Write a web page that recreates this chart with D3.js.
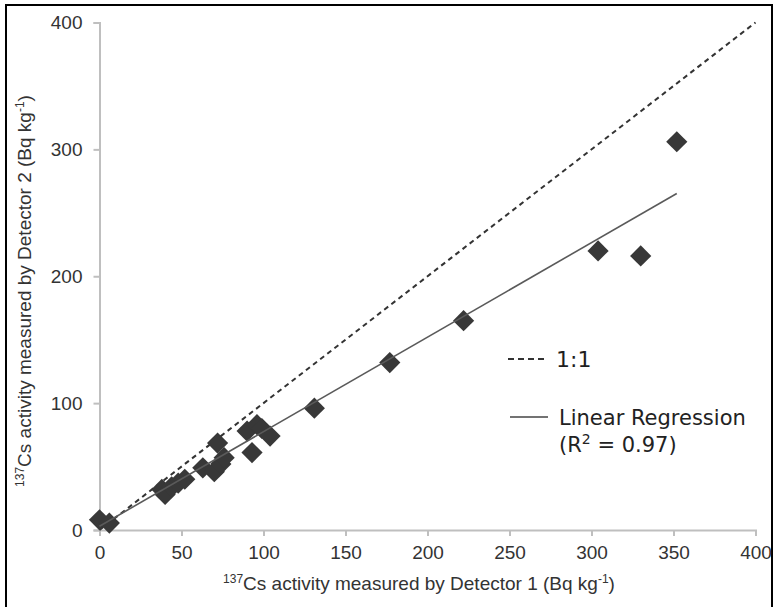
<!DOCTYPE html>
<html>
<head>
<meta charset="utf-8">
<script src="https://cdn.jsdelivr.net/npm/d3@7"></script>
<style>
  html, body { margin: 0; padding: 0; background: #fff; }
  svg { display: block; }
</style>
</head>
<body>
<svg id="chart" width="776" height="607"></svg>
<script>
// ---- data ----
const detector1 = [0, 6, 38, 40, 44, 48, 52, 63, 70, 74, 76, 72, 90, 96, 99, 104, 93, 131, 177, 222, 304, 330, 352];
const detector2 = [8, 5.5, 32, 28, 34, 37, 40, 49, 46, 52, 57, 68.5, 78, 83, 80, 74, 61, 96, 132, 165, 220, 216, 306];
const xTicks = [0, 50, 100, 150, 200, 250, 300, 350, 400];
const yTicks = [0, 100, 200, 300, 400];
const regSlope = 0.745;
const regIntercept = 3;
const regRange = [0, 352];
const oneToOne = [0, 400];
const legendLabels = ["1:1", "Linear Regression", "(R", "2", " = 0.97)"];

const svg = d3.select("#chart");

// border
svg.append("rect")
  .attr("x", 6).attr("y", 5).attr("width", 766).attr("height", 603)
  .attr("fill", "none").attr("stroke", "#000").attr("stroke-width", 2);

const x = d3.scaleLinear().domain([0, 400]).range([99.5, 755.5]);
const y = d3.scaleLinear().domain([0, 400]).range([530, 22.5]);

const axisColor = "#bfbfbf";
const tickFont = "'Liberation Sans', Arial, sans-serif";

// x axis
const gx = svg.append("g").attr("transform", `translate(0,${y(0)})`)
  .call(d3.axisBottom(x).tickValues(xTicks).tickSize(6).tickPadding(10).tickSizeOuter(6));
// y axis
const gy = svg.append("g").attr("transform", `translate(${x(0)},0)`)
  .call(d3.axisLeft(y).tickValues(yTicks).tickSize(6).tickPadding(11).tickSizeOuter(6));

[gx, gy].forEach(g => {
  g.select(".domain").attr("stroke", axisColor).attr("stroke-width", 2);
  g.selectAll(".tick line").attr("stroke", axisColor).attr("stroke-width", 2);
  g.selectAll(".tick text").attr("fill", "#333")
    .style("font-family", tickFont).style("font-size", "19px");
});

// 1:1 line
svg.append("line")
  .attr("x1", x(oneToOne[0])).attr("y1", y(oneToOne[0]))
  .attr("x2", x(oneToOne[1])).attr("y2", y(oneToOne[1]))
  .attr("stroke", "#333").attr("stroke-width", 2).attr("stroke-dasharray", "5,4");

// points
const pts = detector1.map((d, i) => [d, detector2[i]]);
const sym = d3.symbol().type(d3.symbolSquare).size(225);
svg.append("g").selectAll("path").data(pts).join("path")
  .attr("d", sym)
  .attr("transform", d => `translate(${x(d[0])},${y(d[1])}) rotate(45)`)
  .attr("fill", "#383838");

// regression line
svg.append("line")
  .attr("x1", x(regRange[0])).attr("y1", y(regIntercept + regSlope * regRange[0]))
  .attr("x2", x(regRange[1])).attr("y2", y(regIntercept + regSlope * regRange[1]))
  .attr("stroke", "#5a5a5a").attr("stroke-width", 1.6);

// legend
const legFont = "'DejaVu Sans', Verdana, sans-serif";
const leg = svg.append("g");
leg.append("line").attr("x1", 508).attr("x2", 548).attr("y1", 359).attr("y2", 359)
  .attr("stroke", "#333").attr("stroke-width", 2).attr("stroke-dasharray", "6,4");
leg.append("text").attr("x", 556).attr("y", 367).text(legendLabels[0])
  .attr("fill", "#1e1e1e").style("font-family", legFont).style("font-size", "22px");
leg.append("line").attr("x1", 510).attr("x2", 548).attr("y1", 417).attr("y2", 417)
  .attr("stroke", "#444").attr("stroke-width", 1.6);
leg.append("text").attr("x", 559).attr("y", 425).text(legendLabels[1])
  .attr("fill", "#222").style("font-family", legFont).style("font-size", "21px");
const r2 = leg.append("text").attr("x", 559).attr("y", 452)
  .attr("fill", "#222").style("font-family", legFont).style("font-size", "21px");
r2.append("tspan").text(legendLabels[2]);
r2.append("tspan").text(legendLabels[3]).attr("dy", -8).style("font-size", "14px");
r2.append("tspan").text(legendLabels[4]).attr("dy", 8);

// axis titles
function title(sel, num) {
  sel.append("tspan").text("137").style("font-size", "12px").attr("dy", -7);
  sel.append("tspan").text("Cs activity measured by Detector " + num + " (Bq kg").attr("dy", 7);
  sel.append("tspan").text("-1").style("font-size", "12px").attr("dy", -7);
  sel.append("tspan").text(")").attr("dy", 7);
}
const xt = svg.append("text").attr("x", 419).attr("y", 590).attr("text-anchor", "middle")
  .attr("fill", "#333").style("font-family", tickFont).style("font-size", "19px");
title(xt, 1);
const yt = svg.append("text").attr("transform", "translate(31,291) rotate(-90)").attr("text-anchor", "middle")
  .attr("fill", "#333").style("font-family", tickFont).style("font-size", "19px");
title(yt, 2);
</script>
</body>
</html>
